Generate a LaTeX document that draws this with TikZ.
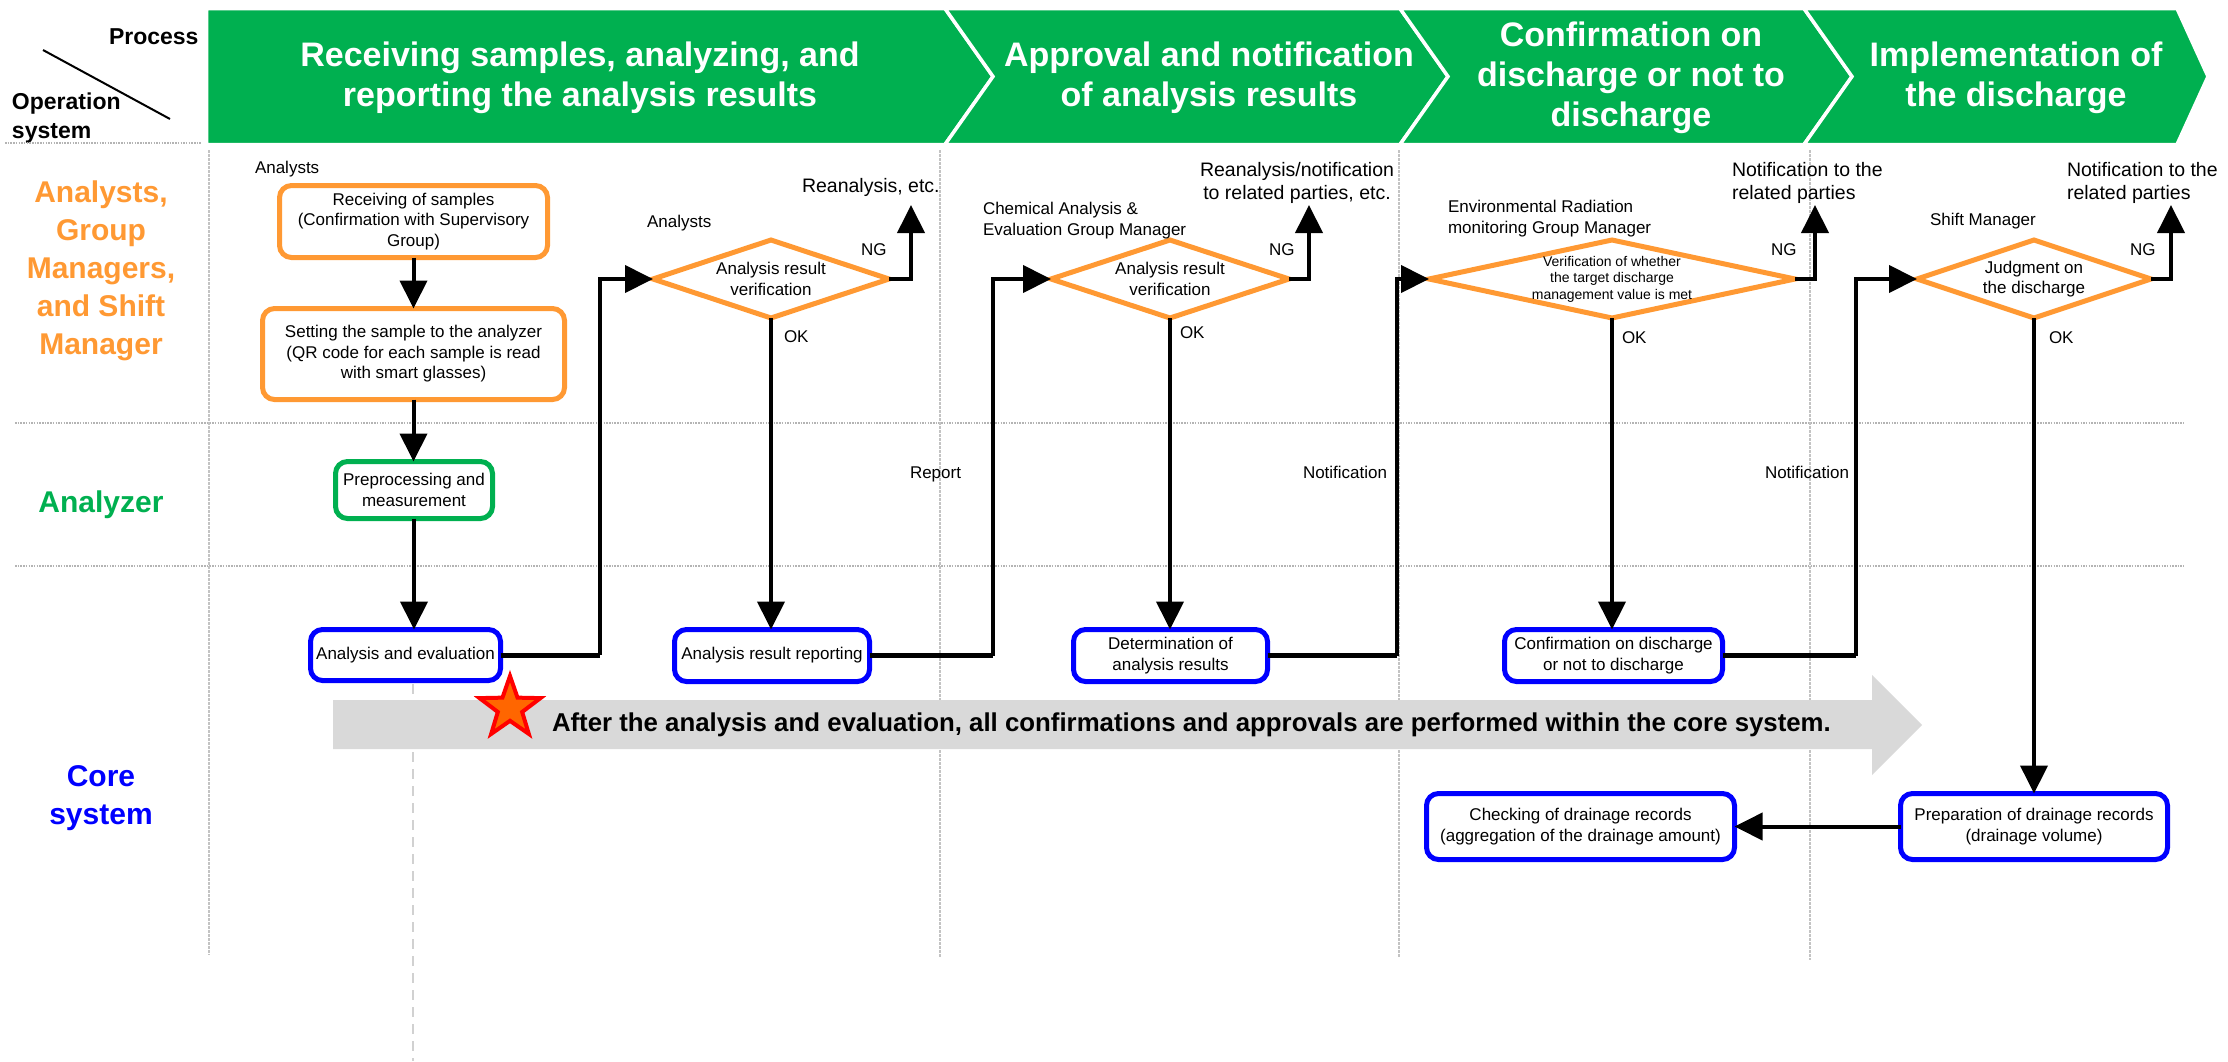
\documentclass[tikz,border=0pt]{standalone}
\usepackage{fontspec}
\setmainfont{Liberation Sans}
\usetikzlibrary{arrows.meta,shapes.geometric}
\definecolor{hdrgreen}{HTML}{00B050}
\definecolor{flowora}{HTML}{FF9933}
\definecolor{flowblue}{HTML}{0000FF}
\definecolor{bandgray}{HTML}{D9D9D9}
\definecolor{starfill}{HTML}{FF6600}
\definecolor{starline}{HTML}{FF0000}
\definecolor{gridgray}{HTML}{B4B4B4}

\begin{document}
\begin{tikzpicture}[x=1pt,y=-1pt,
  every node/.style={inner sep=0pt,outer sep=0pt},
  chev/.style={fill=hdrgreen,draw=white,line width=3.5pt,line join=miter},
  hdr/.style={text=white,align=center,font=\bfseries\fontsize{34}{40}\selectfont},
  lanetxt/.style={align=center,font=\bfseries\fontsize{30}{38}\selectfont},
  proc/.style={rectangle,rounded corners=12pt,line width=5pt,fill=white,align=center,
    font=\fontsize{17}{20.5}\selectfont},
  oraproc/.style={proc,draw=flowora},
  grnproc/.style={proc,draw=hdrgreen},
  bluproc/.style={proc,draw=flowblue},
  decision/.style={diamond,draw=flowora,line width=5pt,fill=white,inner sep=0pt},
  dtext/.style={align=center,font=\fontsize{17}{20.5}\selectfont},
  role/.style={align=left,font=\fontsize{17}{21}\selectfont},
  note/.style={font=\fontsize{19.5}{23}\selectfont},
  flow/.style={line width=4pt,-{Triangle[length=28pt,width=27pt]}},
  stub/.style={line width=5pt},
  lane/.style={draw=gridgray,line width=1.5pt,dash pattern=on 1.5pt off 1.2pt},
  col/.style={draw=gridgray!80,line width=1.2pt,dash pattern=on 2.5pt off 1.5pt}
]
\useasboundingbox (0,0) rectangle (2228,1061);
\fill[white] (0,0) rectangle (2228,1061);

% ---------- corner heading ----------
\node[anchor=base west,font=\bfseries\fontsize{23}{26}\selectfont] (proclbl) at (109,44) {Process};
\node[anchor=north west,align=left,font=\bfseries\fontsize{23}{29}\selectfont] (opslbl) at (12,93) {Operation\\system};
\draw[line width=2pt] (43,50) -- (170,119);

% ---------- grid ----------
\draw[lane] (5,143) -- (202,143);
\draw[lane] (15,423) -- (2184,423);
\draw[lane] (15,566) -- (2184,566);
\draw[col] (209,150) -- (209,955);
\draw[col] (940,150) -- (940,958);
\draw[col] (1399,150) -- (1399,958);
\draw[col] (1810,150) -- (1810,960);
\draw[draw=black!18,line width=2.5pt,dash pattern=on 10pt off 7pt] (413,684) -- (413,1061);

% ---------- process chevrons ----------
\draw[chev] (206.5,8.5) -- (945,8.5) -- (993,76.5) -- (945,144.5) -- (206.5,144.5) -- cycle;
\draw[chev] (945,8.5) -- (1400,8.5) -- (1448,76.5) -- (1400,144.5) -- (945,144.5) -- (993,76.5) -- cycle;
\draw[chev] (1400,8.5) -- (1804,8.5) -- (1852,76.5) -- (1804,144.5) -- (1400,144.5) -- (1448,76.5) -- cycle;
\draw[chev] (1804,8.5) -- (2177,8.5) -- (2208,76.5) -- (2177,144.5) -- (1804,144.5) -- (1852,76.5) -- cycle;
\node[hdr] (h1) at (580,78) {Receiving samples, analyzing, and\\reporting the analysis results};
\node[hdr] (h2) at (1209,78) {Approval and notification\\of analysis results};
\node[hdr] (h3) at (1631,78) {Confirmation on\\discharge or not to\\discharge};
\node[hdr] (h4) at (2016,78) {Implementation of\\the discharge};

% ---------- lane titles ----------
\node[lanetxt,text=flowora] (lane1) at (101,271) {Analysts,\\Group\\Managers,\\and Shift\\Manager};
\node[lanetxt,text=hdrgreen] (lane2) at (101,505) {Analyzer};
\node[lanetxt,text=flowblue] (lane3) at (101,798) {Core\\system};

% ---------- core-system banner ----------
\fill[bandgray] (333,700) -- (1872,700) -- (1872,675) -- (1922,725) -- (1872,775) -- (1872,749) -- (333,749) -- cycle;
\node[star,star points=5,star point ratio=2.5,minimum size=64pt,fill=starfill,draw=starline,line width=4pt] (star) at (510,708) {};
\node[anchor=base west,font=\bfseries\fontsize{25.8}{30}\selectfont] (banner) at (552,731)
  {After the analysis and evaluation, all confirmations and approvals are performed within the core system.};

% ---------- process boxes ----------
\node[oraproc,minimum width=268pt,minimum height=72pt] (b1) at (413.5,221.5)
  {Receiving of samples\\(Confirmation with Supervisory\\Group)};
\node[oraproc,minimum width=302pt,minimum height=91pt] (b2) at (413.5,354)
  {Setting the sample to the analyzer\\(QR code for each sample is read\\with smart glasses)};
\node[grnproc,minimum width=157pt,minimum height=57pt] (b3) at (414,490)
  {Preprocessing and\\measurement};
\node[bluproc,minimum width=190pt,minimum height=51pt] (b4) at (405.5,655)
  {Analysis and evaluation};
\node[bluproc,minimum width=195pt,minimum height=52pt] (b6) at (772,655.5)
  {Analysis result reporting};
\node[bluproc,minimum width=194pt,minimum height=52pt] (b8) at (1170.5,655.5)
  {Determination of\\analysis results};
\node[bluproc,minimum width=218pt,minimum height=52pt] (b10) at (1613.5,655.5)
  {Confirmation on discharge\\or not to discharge};
\node[bluproc,minimum width=267pt,minimum height=66pt] (b12) at (2034,826.5)
  {Preparation of drainage records\\(drainage volume)};
\node[bluproc,minimum width=308pt,minimum height=66pt] (b13) at (1580.5,826.5)
  {Checking of drainage records\\(aggregation of the drainage amount)};

% ---------- decisions ----------
\node[decision,minimum width=236pt,minimum height=78pt,
  label={[dtext]center:Analysis result\\verification}] (d1) at (771,279) {};
\node[decision,minimum width=238pt,minimum height=78pt,
  label={[dtext]center:Analysis result\\verification}] (d2) at (1170,279) {};
\node[decision,minimum width=366pt,minimum height=78pt,
  label={[align=center,font=\fontsize{14}{16.5}\selectfont]center:Verification of whether\\the target discharge\\management value is met}] (d3) at (1612,279) {};
\node[decision,minimum width=234pt,minimum height=78pt,
  label={[dtext]center:Judgment on\\the discharge}] (d4) at (2034,279) {};

% ---------- roles ----------
\node[role,anchor=base west] (r1) at (255,173) {Analysts};
\node[role,anchor=base west] (r2) at (647,227) {Analysts};
\node[role,anchor=north west] (r3) at (983,202.6) {Chemical Analysis \&\\Evaluation Group Manager};
\node[role,anchor=north west] (r4) at (1448,200.6) {Environmental Radiation\\monitoring Group Manager};
\node[role,anchor=base west] (r5) at (1930,225) {Shift Manager};

% ---------- NG destinations ----------
\node[note,anchor=base west] (o1) at (802,192) {Reanalysis, etc.};
\node[note,anchor=north,align=center] (o2) at (1297,162.8) {Reanalysis/notification\\to related parties, etc.};
\node[note,anchor=north west,align=left] (o3) at (1732,162.8) {Notification to the\\related parties};
\node[note,anchor=north west,align=left] (o4) at (2067,162.8) {Notification to the\\related parties};

% ---------- end points of connectors ----------
\coordinate (j1) at (600,655);
\coordinate (j2) at (993,655.5);
\coordinate (j3) at (1397,655.5);
\coordinate (j4) at (1856,655.5);
\coordinate (ng1) at (911,205);
\coordinate (ng2) at (1309,205);
\coordinate (ng3) at (1815,205);
\coordinate (ng4) at (2171,205);

% ---------- connectors ----------
\draw[flow] (b1.south) -- (b1.south |- b2.north);
\draw[flow] (b2.south) -- (b2.south |- b3.north);
\draw[flow] (b3.south) -- (b3.south |- b4.north);
\draw[stub] (b4.east) -- (j1);
\draw[flow] (j1) |- (d1.west);
\draw[flow] (d1.south) -- (d1.south |- b6.north);
\draw[flow] (d1.east) -| (ng1);
\draw[stub] (b6.east) -- (j2);
\draw[flow] (j2) |- (d2.west);
\draw[flow] (d2.south) -- (d2.south |- b8.north);
\draw[flow] (d2.east) -| (ng2);
\draw[stub] (b8.east) -- (j3);
\draw[flow] (j3) |- (d3.west);
\draw[flow] (d3.south) -- (d3.south |- b10.north);
\draw[flow] (d3.east) -| (ng3);
\draw[stub] (b10.east) -- (j4);
\draw[flow] (j4) |- (d4.west);
\draw[flow] (d4.south) -- (d4.south |- b12.north);
\draw[flow] (d4.east) -| (ng4);
\draw[flow] (b12.west) -- (b13.east);

% ---------- connector labels ----------
\node[role,anchor=base west] (ng1l) at (861,255) {NG};
\node[role,anchor=base west] (ng2l) at (1269,255) {NG};
\node[role,anchor=base west] (ng3l) at (1771,255) {NG};
\node[role,anchor=base west] (ng4l) at (2130,255) {NG};
\node[role,anchor=base west] (ok1l) at (784,342) {OK};
\node[role,anchor=base west] (ok2l) at (1180,338) {OK};
\node[role,anchor=base west] (ok3l) at (1622,343) {OK};
\node[role,anchor=base west] (ok4l) at (2049,343) {OK};
\node[role,anchor=base west] (rep) at (910,478) {Report};
\node[role,anchor=base west] (not1) at (1303,478) {Notification};
\node[role,anchor=base west] (not2) at (1765,478) {Notification};
\end{tikzpicture}
\end{document}
